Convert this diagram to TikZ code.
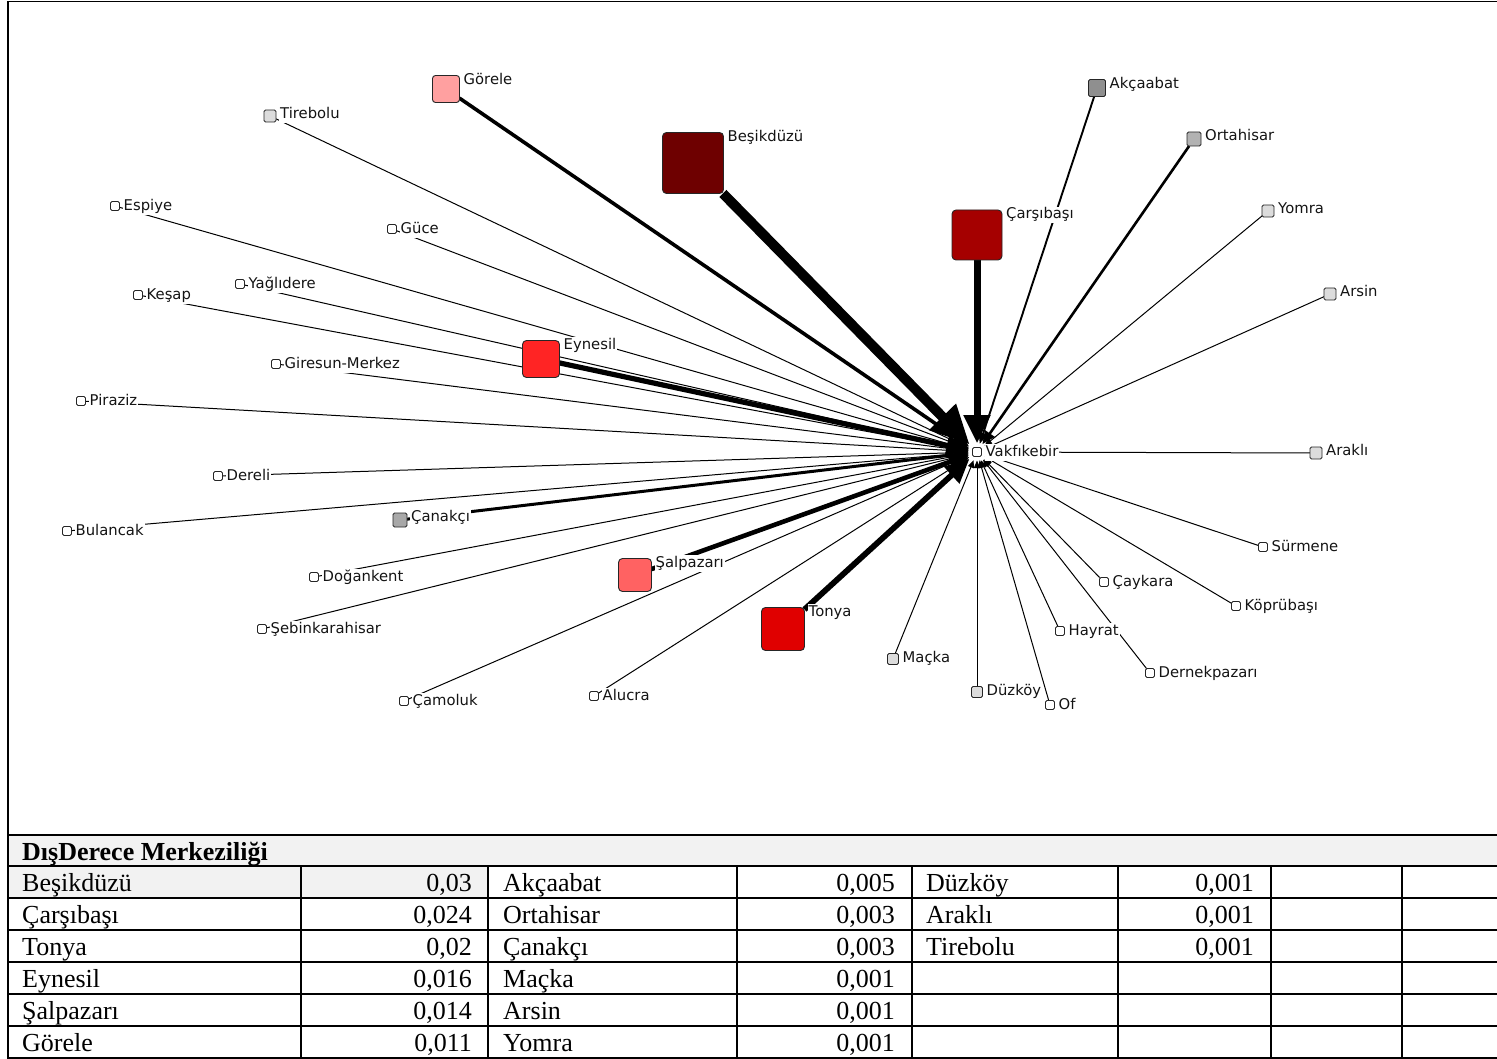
\documentclass[tikz,border=0pt]{standalone}
\usepackage{fontspec}
\usetikzlibrary{arrows.meta}
\newfontfamily\labfont{DejaVu Sans}
\newfontfamily\tabfont{Liberation Serif}
\pgfdeclarelayer{edges}
\pgfsetlayers{edges,main}

\definecolor{cBes}{HTML}{6E0000}
\definecolor{cCar}{HTML}{A50000}
\definecolor{cTon}{HTML}{E00000}
\definecolor{cEyn}{HTML}{FF2424}
\definecolor{cSal}{HTML}{FF6262}
\definecolor{cGor}{HTML}{FFA0A0}
\definecolor{cAkc}{HTML}{8F8F8F}
\definecolor{cOrt}{HTML}{B2B2B2}
\definecolor{cCan}{HTML}{A8A8A8}
\definecolor{cLow}{HTML}{DCDCDC}
\definecolor{cHead}{HTML}{F2F2F2}

\begin{document}
\begin{tikzpicture}[x=1pt,y=-1pt,
  sq/.style={draw=black!85, line width=0.9pt, rounded corners=1.5pt,
    inner sep=0pt, outer sep=0pt, minimum size=#1},
  bigsq/.style={sq=#1, rounded corners=4pt},
  lab/.style={font=\labfont\fontsize{14.8}{16}\selectfont, text=black!92,
    fill=white, inner sep=1pt, anchor=west, text height=11pt, text depth=3.5pt},
  edge/.style={line width=#1, draw=black,
    -{Triangle[length=4pt 3.5, width=3pt 3.2]}, shorten >=4pt},
  rule/.style={line width=1.4pt, draw=black},
  cell/.style={font=\tabfont\fontsize{26}{28}\selectfont, inner sep=0pt},
  tname/.style={cell, anchor=base west},
  tval/.style={cell, anchor=base east}]

\useasboundingbox (0,0) rectangle (1497,1059);

% ---------- districts ----------
\node[sq=9, fill=white] (vak) at (977,452) {};

\node[bigsq=61, fill=cBes] (bes) at (693,163) {};
\node[bigsq=50, fill=cCar] (car) at (977,235) {};
\node[bigsq=43, fill=cTon] (ton) at (783,629) {};
\node[bigsq=37, fill=cEyn] (eyn) at (541,359) {};
\node[bigsq=33, fill=cSal] (sal) at (635,575) {};
\node[bigsq=27, rounded corners=3pt, fill=cGor] (gor) at (446,89) {};

\node[sq=17, fill=cAkc] (akc) at (1097,88) {};
\node[sq=14, fill=cOrt] (ort) at (1194,139) {};
\node[sq=14, fill=cCan] (can) at (400,520) {};
\node[sq=12, fill=cLow] (yom) at (1268,211) {};
\node[sq=12, fill=cLow] (ars) at (1330,294) {};
\node[sq=12, fill=cLow] (ara) at (1316,453) {};
\node[sq=11, fill=cLow] (duz) at (977,692) {};
\node[sq=11, fill=cLow] (mac) at (893,659) {};
\node[sq=12, fill=cLow] (tir) at (270,116) {};

\node[sq=9, fill=white] (sur) at (1263,547) {};
\node[sq=9, fill=white] (kop) at (1236,606) {};
\node[sq=9, fill=white] (cay) at (1104,582) {};
\node[sq=9, fill=white] (hay) at (1060,631) {};
\node[sq=9, fill=white] (dnk) at (1150,673) {};
\node[sq=9, fill=white] (of) at (1050,705) {};
\node[sq=9, fill=white] (alu) at (594,696) {};
\node[sq=9, fill=white] (cam) at (404,701) {};
\node[sq=9, fill=white] (seb) at (262,629) {};
\node[sq=9, fill=white] (dog) at (314,577) {};
\node[sq=9, fill=white] (bul) at (67,531) {};
\node[sq=9, fill=white] (drl) at (218,476) {};
\node[sq=9, fill=white] (pir) at (81,401) {};
\node[sq=9, fill=white] (gir) at (276,364) {};
\node[sq=9, fill=white] (kes) at (138,295) {};
\node[sq=9, fill=white] (yag) at (240,284) {};
\node[sq=9, fill=white] (guc) at (392,229) {};
\node[sq=9, fill=white] (esp) at (115,206) {};

% ---------- ties into Vakfıkebir ----------
\begin{pgfonlayer}{edges}
  \foreach \n in {yom,ars,ara,duz,mac,tir,sur,kop,cay,hay,dnk,of,alu,cam,
                  seb,dog,bul,drl,pir,gir,kes,yag,guc,esp}
    \draw[edge=1pt] (\n) -- (vak);
  \draw[edge=1.9pt] (akc) -- (vak);
  \draw[edge=2.6pt] (ort) -- (vak);
  \draw[edge=3pt] (can) -- (vak);
  \draw[edge=3.6pt] (gor) -- (vak);
  \draw[edge=4.6pt] (sal) -- (vak);
  \draw[edge=5.2pt] (eyn) -- (vak);
  \draw[edge=5.8pt] (ton) -- (vak);
  \draw[edge=7pt] (car) -- (vak);
  \draw[edge=10pt] (bes) -- (vak);
\end{pgfonlayer}

% ---------- labels ----------
\foreach \n/\t in {vak/Vakfıkebir, bes/Beşikdüzü, car/Çarşıbaşı, ton/Tonya,
    eyn/Eynesil, sal/Şalpazarı, gor/Görele, akc/Akçaabat, ort/Ortahisar,
    can/Çanakçı, yom/Yomra, ars/Arsin, ara/Araklı, duz/Düzköy, mac/Maçka,
    tir/Tirebolu, sur/Sürmene, kop/Köprübaşı, cay/Çaykara, hay/Hayrat,
    dnk/Dernekpazarı, of/Of, alu/Alucra, cam/Çamoluk, seb/Şebinkarahisar,
    dog/Doğankent, bul/Bulancak, drl/Dereli, pir/Piraziz, gir/Giresun-Merkez,
    kes/Keşap, yag/Yağlıdere, guc/Güce, esp/Espiye}
  \node[lab] (\n-l) at ([xshift=3pt,yshift=-5pt]\n.north east) {\t};

% ---------- frame and table ----------
\draw[line width=1.6pt] (8,1059) -- (8,1.5) -- (1497,1.5);
\fill[cHead] (9,836) rectangle (1497,866);
\fill[cHead] (9,866) rectangle (488,898);
\draw[line width=2pt] (8,835) -- (1497,835);
\foreach \y in {866,898,930,962,994,1026,1058}
  \draw[rule] (8,\y) -- (1497,\y);
\foreach \x in {301,488,737,912,1118,1271,1402}
  \draw[rule] (\x,866) -- (\x,1058);

\node[cell, anchor=base west, font=\tabfont\bfseries\fontsize{26}{28}\selectfont]
  (head) at (22,860) {DışDerece Merkeziliği};

\node[tname] (n1) at (22,891) {Beşikdüzü};   \node[tval] (v1) at (472,891) {0,03};
\node[tname] (n2) at (22,923) {Çarşıbaşı};   \node[tval] (v2) at (472,923) {0,024};
\node[tname] (n3) at (22,955) {Tonya};       \node[tval] (v3) at (472,955) {0,02};
\node[tname] (n4) at (22,987) {Eynesil};     \node[tval] (v4) at (472,987) {0,016};
\node[tname] (n5) at (22,1019) {Şalpazarı};  \node[tval] (v5) at (472,1019) {0,014};
\node[tname] (n6) at (22,1051) {Görele};     \node[tval] (v6) at (472,1051) {0,011};

\node[tname] (n7) at (503,891) {Akçaabat};   \node[tval] (v7) at (895,891) {0,005};
\node[tname] (n8) at (503,923) {Ortahisar};  \node[tval] (v8) at (895,923) {0,003};
\node[tname] (n9) at (503,955) {Çanakçı};    \node[tval] (v9) at (895,955) {0,003};
\node[tname] (n10) at (503,987) {Maçka};     \node[tval] (v10) at (895,987) {0,001};
\node[tname] (n11) at (503,1019) {Arsin};    \node[tval] (v11) at (895,1019) {0,001};
\node[tname] (n12) at (503,1051) {Yomra};    \node[tval] (v12) at (895,1051) {0,001};

\node[tname] (n13) at (926,891) {Düzköy};    \node[tval] (v13) at (1254,891) {0,001};
\node[tname] (n14) at (926,923) {Araklı};    \node[tval] (v14) at (1254,923) {0,001};
\node[tname] (n15) at (926,955) {Tirebolu};  \node[tval] (v15) at (1254,955) {0,001};
\end{tikzpicture}
\end{document}
